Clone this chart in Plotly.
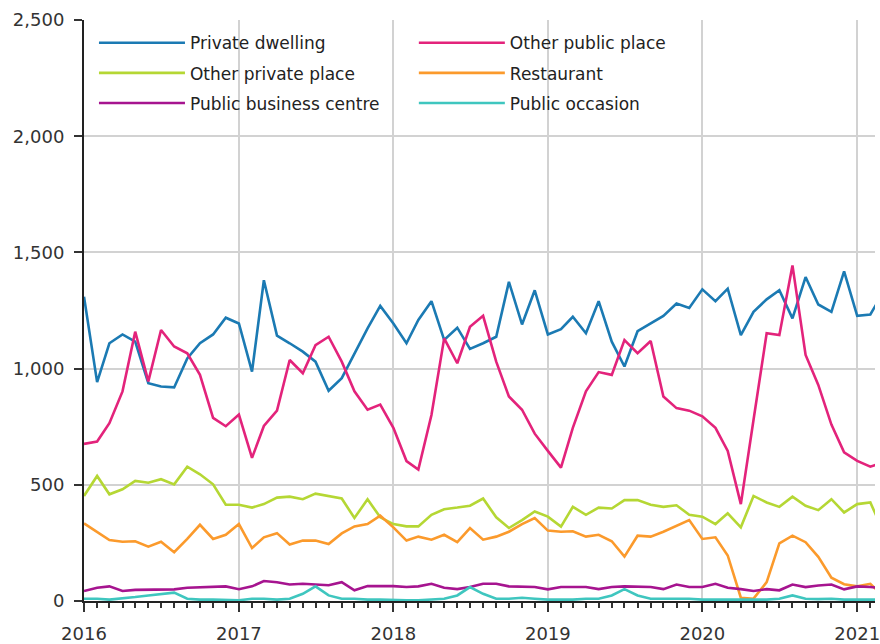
import pandas as pd
import plotly.graph_objects as go

months = pd.date_range("2016-01-01", periods=63, freq="MS")

private_dwelling = [1309, 942, 1109, 1147, 1116, 937, 923, 919, 1044, 1109, 1147, 1219,
                    1194, 987, 1380, 1142, 1109, 1073, 1030, 905, 959, 1066, 1173, 1270,
                    1194, 1109, 1209, 1290, 1123, 1176, 1085, 1109, 1137, 1373, 1190, 1337,
                    1147, 1170, 1223, 1152, 1290, 1116, 1009, 1161, 1194, 1227, 1280, 1261,
                    1341, 1290, 1344, 1144, 1244, 1298, 1337, 1216, 1394, 1276, 1244, 1418,
                    1227, 1233, 1320]
other_public_place = [676, 686, 765, 902, 1159, 945, 1166, 1095, 1066, 973, 788, 752,
                      802, 616, 753, 819, 1037, 980, 1101, 1137, 1030, 902, 823, 845,
                      745, 602, 566, 800, 1130, 1023, 1180, 1227, 1030, 880, 823, 720,
                      646, 574, 745, 902, 985, 973, 1123, 1066, 1119, 880, 830, 819,
                      795, 745, 646, 417, 780, 1152, 1144, 1444, 1059, 930, 759, 640,
                      603, 578, 595]
other_private_place = [452, 538, 459, 481, 517, 509, 524, 502, 578, 545, 502, 414,
                       414, 402, 417, 445, 449, 438, 462, 452, 441, 357, 438, 360,
                       331, 321, 321, 371, 395, 402, 410, 441, 360, 314, 348, 385,
                       363, 320, 405, 371, 402, 398, 434, 434, 414, 405, 412, 371,
                       363, 331, 377, 317, 452, 424, 405, 449, 410, 391, 438, 381,
                       417, 424, 310]
restaurant = [334, 295, 262, 255, 257, 234, 255, 210, 267, 328, 267, 285,
              331, 228, 274, 292, 243, 260, 260, 245, 291, 321, 331, 367,
              317, 260, 277, 264, 285, 253, 314, 264, 277, 298, 331, 357,
              303, 298, 300, 277, 285, 257, 191, 281, 277, 298, 324, 348,
              267, 274, 196, 14, 10, 81, 248, 281, 253, 190, 100, 72,
              63, 74, 25]
public_business_centre = [43, 57, 63, 43, 48, 48, 48, 50, 57, 60, 60, 63,
                          51, 63, 86, 81, 71, 74, 71, 68, 81, 46, 64, 64,
                          64, 60, 63, 74, 57, 51, 60, 74, 74, 63, 63, 60,
                          50, 60, 60, 60, 51, 60, 63, 60, 60, 51, 71, 60,
                          60, 74, 57, 51, 43, 51, 46, 71, 60, 67, 71, 50,
                          63, 60, 55]
public_occasion = [10, 10, 6, 10, 17, 24, 31, 36, 10, 6, 6, 6,
                   3, 10, 10, 6, 10, 31, 63, 24, 10, 10, 6, 6,
                   3, 3, 3, 6, 10, 24, 60, 31, 10, 10, 14, 10,
                   6, 6, 6, 10, 10, 24, 51, 24, 10, 10, 10, 10,
                   6, 6, 6, 3, 3, 6, 10, 24, 10, 8, 10, 6,
                   6, 6, 6]

series = [
    ("Private dwelling", private_dwelling, "#1b7ab3", "legend"),
    ("Other public place", other_public_place, "#e3237b", "legend2"),
    ("Other private place", other_private_place, "#b5d734", "legend"),
    ("Restaurant", restaurant, "#fb9a2c", "legend2"),
    ("Public business centre", public_business_centre, "#a6148f", "legend"),
    ("Public occasion", public_occasion, "#3fc6bf", "legend2"),
]

fig = go.Figure()
for name, vals, color, leg in series:
    fig.add_trace(go.Scatter(
        x=months, y=vals, name=name, mode="lines",
        line=dict(color=color, width=2.6),
        legend=leg, legendgroup=name,
    ))

FONT = "DejaVu Sans"
legend_common = dict(
    orientation="v", bgcolor="rgba(0,0,0,0)", borderwidth=0,
    font=dict(family=FONT, size=17, color="#222"),
    itemwidth=86, tracegroupgap=5, yanchor="top", xanchor="left",
)

fig.update_layout(
    width=880, height=644,
    margin=dict(l=84, r=0, t=20, b=40),
    paper_bgcolor="white", plot_bgcolor="white",
    font=dict(family=FONT, size=18, color="#333"),
    showlegend=True,
    legend=dict(x=0.0126, y=0.991, **legend_common),
    legend2=dict(x=0.417, y=0.991, **legend_common),
    xaxis=dict(
        type="date",
        range=["2016-01-01", "2021-02-12"],
        dtick="M12", tick0="2016-01-01", tickformat="%Y",
        ticks="outside", ticklen=9, tickwidth=1.5, tickcolor="#333",
        ticklabelstandoff=6,
        showgrid=True, gridcolor="#d2d2d2", gridwidth=1.5,
        showline=True, linecolor="#222", linewidth=2,
        ticklabeloverflow="allow",
        minor=dict(dtick="M1", tick0="2016-01-01", ticks="outside", ticklen=5,
                   tickwidth=1.5, tickcolor="#333", showgrid=False),
        zeroline=False,
    ),
    yaxis=dict(
        range=[0, 2500], dtick=500, tickformat=",",
        ticks="outside", ticklen=8, tickwidth=1.5, tickcolor="#333",
        ticklabelstandoff=6,
        showgrid=True, gridcolor="#d2d2d2", gridwidth=1.5,
        showline=True, linecolor="#222", linewidth=2,
        zeroline=False,
    ),
)

fig.write_html(
    "out.html",
    config={"displayModeBar": False},
    post_script="document.body.style.margin='0';document.body.style.overflow='hidden';",
)
